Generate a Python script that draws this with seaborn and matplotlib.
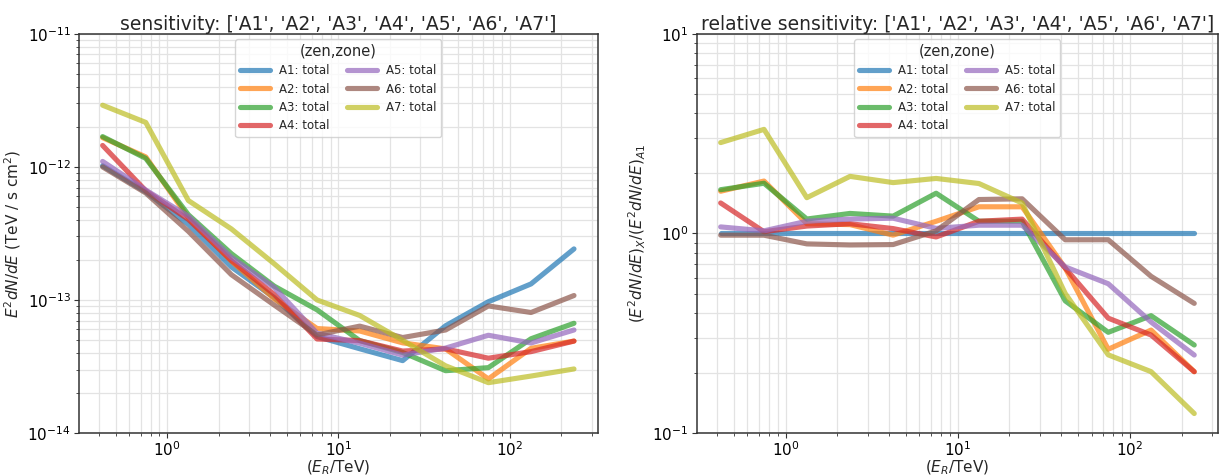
import numpy as np
import pandas as pd
import matplotlib
matplotlib.use("Agg")
import matplotlib.pyplot as plt
from matplotlib.ticker import FixedLocator, LogFormatterSciNotation
import seaborn as sns

# Reconstructed energy bin centres (TeV)
energy = [0.42, 0.75, 1.33, 2.37, 4.22, 7.5, 13.3, 23.7, 42.2, 75.0, 133.0, 237.0]

# Differential sensitivity E^2 dN/dE (TeV / s cm^2) per array configuration
sens_A1 = [1.02e-12, 6.5e-13, 3.7e-13, 1.77e-13, 1.04e-13, 5.3e-14, 4.3e-14, 3.5e-14, 6.4e-14, 9.7e-14, 1.32e-13, 2.42e-13]
sens_A2 = [1.66e-12, 1.19e-12, 4.14e-13, 1.96e-13, 1.02e-13, 6.1e-14, 5.85e-14, 4.76e-14, 4.29e-14, 2.55e-14, 4.33e-14, 4.91e-14]
sens_A3 = [1.69e-12, 1.16e-12, 4.37e-13, 2.23e-13, 1.27e-13, 8.43e-14, 4.95e-14, 4.03e-14, 2.94e-14, 3.10e-14, 5.11e-14, 6.68e-14]
sens_A4 = [1.45e-12, 6.63e-13, 4.03e-13, 1.98e-13, 1.10e-13, 5.09e-14, 4.95e-14, 4.13e-14, 4.29e-14, 3.65e-14, 4.09e-14, 4.91e-14]
sens_A5 = [1.10e-12, 6.70e-13, 4.26e-13, 2.09e-13, 1.24e-13, 5.62e-14, 4.73e-14, 3.85e-14, 4.35e-14, 5.43e-14, 4.75e-14, 5.95e-14]
sens_A6 = [1.00e-12, 6.37e-13, 3.28e-13, 1.55e-13, 9.15e-14, 5.46e-14, 6.36e-14, 5.22e-14, 5.95e-14, 9.02e-14, 8.05e-14, 1.08e-13]
sens_A7 = [2.91e-12, 2.16e-12, 5.59e-13, 3.42e-13, 1.87e-13, 1.00e-13, 7.65e-14, 4.97e-14, 3.20e-14, 2.39e-14, 2.68e-14, 3.03e-14]

arrays = ["A1", "A2", "A3", "A4", "A5", "A6", "A7"]
series = [sens_A1, sens_A2, sens_A3, sens_A4, sens_A5, sens_A6, sens_A7]
labels = [f"{a}: total" for a in arrays]
colors = ["#1f77b4", "#ff7f0e", "#2ca02c", "#d62728", "#9467bd", "#8c564b", "#bcbd22"]

# Major tick positions on the y axes
yticks_abs = [1e-14, 1e-13, 1e-12, 1e-11]
yticks_rel = [1e-1, 1e0, 1e1]

# Long-form table; relative sensitivity is taken against the A1 reference
rows = []
ref = np.array(sens_A1)
for lab, vals in zip(labels, series):
    vals = np.array(vals)
    for e, v, r in zip(energy, vals, vals / ref):
        rows.append({"E": e, "sens": v, "rel": r, "zone": lab})
df = pd.DataFrame(rows)

sns.set_style("ticks")
plt.rcParams["font.family"] = ["DejaVu Sans"]
palette = dict(zip(labels, colors))

fig = plt.figure(figsize=(12.2, 4.76), dpi=100)
ax1 = fig.add_axes([0.0648, 0.0903, 0.4250, 0.8385])
ax2 = fig.add_axes([0.5713, 0.0903, 0.4270, 0.8385])

title_list = "[" + ", ".join(f"'{a}'" for a in arrays) + "]"

for ax, col, yticks, ylabel, title in [
    (ax1, "sens", yticks_abs, r"$E^2 dN/dE$ (TeV / s cm$^2$)", "sensitivity: " + title_list),
    (ax2, "rel", yticks_rel, r"$(E^2 dN/dE)_X / (E^2 dN/dE)_{A1}$", "relative sensitivity: " + title_list),
]:
    sns.lineplot(data=df, x="E", y=col, hue="zone", palette=palette,
                 linewidth=3.7, alpha=0.7, ax=ax, sort=False)
    ax.set_xscale("log")
    ax.set_yscale("log")
    ax.set_ylim(yticks[0], yticks[-1])
    ax.yaxis.set_major_locator(FixedLocator(yticks))
    ax.yaxis.set_major_formatter(LogFormatterSciNotation())
    ax.grid(True, which="both", color="#e3e3e3", linewidth=0.9)
    ax.set_axisbelow(True)
    for s in ax.spines.values():
        s.set_color("#333333")
        s.set_linewidth(1.1)
    ax.tick_params(which="both", colors="#333333", labelcolor="black", labelsize=11)
    ax.tick_params(axis="x", which="major", pad=1.5)
    ax.tick_params(axis="y", which="major", pad=2.5)
    ax.set_xlabel(r"($E_R$/TeV)", fontsize=11, labelpad=0)
    ax.set_ylabel(ylabel, fontsize=11, labelpad=3)
    ax.set_title(title, fontsize=13.5, pad=3)
    leg = ax.legend(title="(zen,zone)", ncol=2, loc="upper center",
                    fontsize=8.5, title_fontsize=10.5, handlelength=2.5,
                    columnspacing=1.5, borderaxespad=0.45, labelspacing=0.45)
    for h in leg.get_lines():
        h.set_linewidth(3.7)
        h.set_alpha(0.7)

fig.savefig("out.png", dpi=100)
